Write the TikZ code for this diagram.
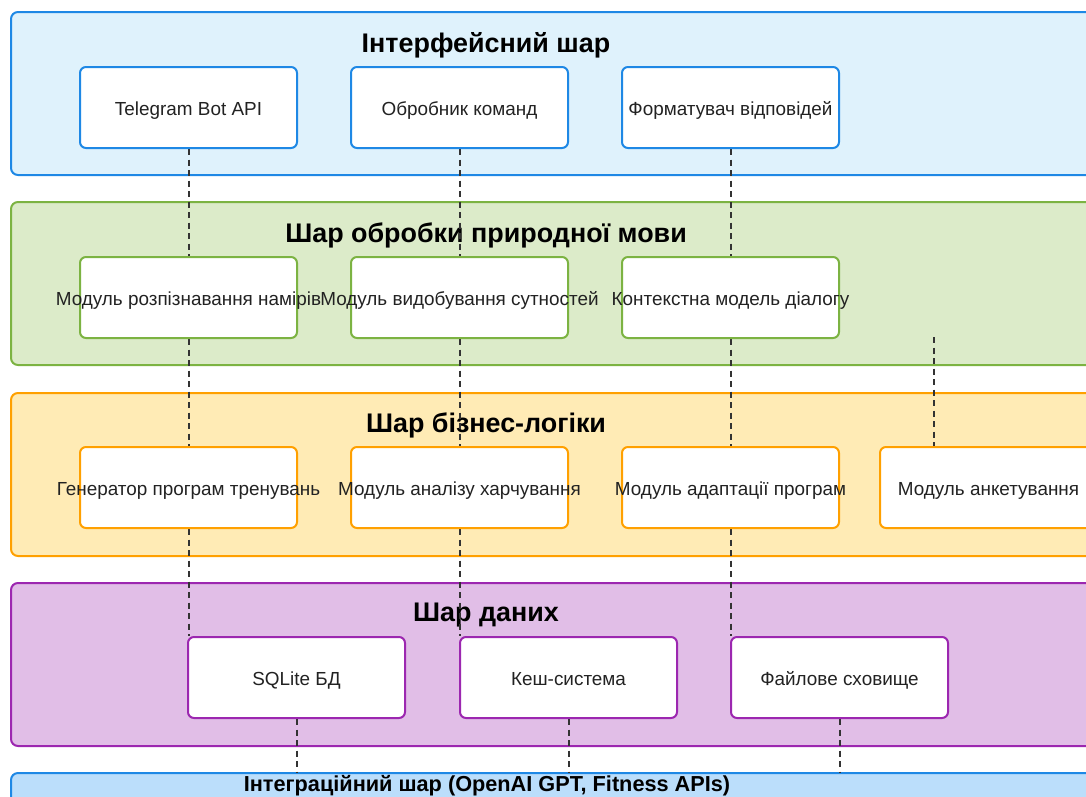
\documentclass[tikz,border=0pt]{standalone}
\usepackage{fontspec}
\setmainfont{Liberation Sans}
\definecolor{ifFill}{HTML}{DFF2FC}
\definecolor{ifLine}{HTML}{1E88E5}
\definecolor{nlFill}{HTML}{DCEBC9}
\definecolor{nlLine}{HTML}{7CB342}
\definecolor{blFill}{HTML}{FFEBB5}
\definecolor{blLine}{HTML}{FFA000}
\definecolor{dtFill}{HTML}{E1BEE7}
\definecolor{dtLine}{HTML}{9C27B0}
\definecolor{igFill}{HTML}{BBDEFB}
\definecolor{igLine}{HTML}{1E88E5}
\definecolor{linkCol}{HTML}{333333}
\definecolor{txtCol}{HTML}{222222}
\begin{document}
\begin{tikzpicture}[x=1pt,y=-1pt,
  layer/.style={rectangle, rounded corners=7pt, line width=2pt, anchor=north west,
    minimum width=1100pt, minimum height=163pt, inner sep=0pt},
  box/.style={rectangle, rounded corners=6pt, line width=2pt, fill=white, anchor=north west,
    minimum width=217pt, minimum height=81pt, inner sep=0pt},
  lbl/.style={font=\fontsize{18.9}{21}\selectfont, text=txtCol, inner sep=0pt, anchor=base},
  title/.style={font=\fontsize{26.9}{30}\selectfont\bfseries, text=black, inner sep=0pt, anchor=base},
  link/.style={draw=linkCol, line width=2pt, dash pattern=on 6pt off 4.5pt}]
\useasboundingbox (0,0) rectangle (1086,796);
\clip (0,0) rectangle (1086,796);

% layer backgrounds
\node[layer, fill=ifFill, draw=ifLine] (iface) at (10,11) {};
\node[layer, fill=nlFill, draw=nlLine] (nlp) at (10,201) {};
\node[layer, fill=blFill, draw=blLine] (biz) at (10,392) {};
\node[layer, fill=dtFill, draw=dtLine] (data) at (10,582) {};
\node[layer, fill=igFill, draw=igLine, minimum height=60pt] (integ) at (10,772) {};

% layer titles
\node[title] (iface-t) at (486,52) {Інтерфейсний шар};
\node[title] (nlp-t) at (486,242.5) {Шар обробки природної мови};
\node[title] (biz-t) at (486,432.5) {Шар бізнес-логіки};
\node[title] (data-t) at (486,621.5) {Шар даних};
\node[title, font=\fontsize{21.7}{24}\selectfont\bfseries] (integ-t) at (487,791) {Інтеграційний шар (OpenAI GPT, Fitness APIs)};

% component positions (top left corners)
\coordinate (tg-p) at (79,66);    \coordinate (cmd-p) at (350,66);   \coordinate (fmt-p) at (621,66);
\coordinate (int-p) at (79,256);  \coordinate (ent-p) at (350,256);  \coordinate (ctx-p) at (621,256);
\coordinate (gen-p) at (79,446);  \coordinate (nut-p) at (350,446);  \coordinate (adp-p) at (621,446);
\coordinate (quiz-p) at (879,446);
\coordinate (db-p) at (187,636);  \coordinate (cache-p) at (459,636); \coordinate (file-p) at (730,636);
\coordinate (quiz-src) at (934,337);

% component outlines used as anchors for the connectors
\path node[box, draw=none, fill=none] (tg) at (tg-p) {}
      node[box, draw=none, fill=none] (cmd) at (cmd-p) {}
      node[box, draw=none, fill=none] (fmt) at (fmt-p) {}
      node[box, draw=none, fill=none] (int) at (int-p) {}
      node[box, draw=none, fill=none] (ent) at (ent-p) {}
      node[box, draw=none, fill=none] (ctx) at (ctx-p) {}
      node[box, draw=none, fill=none] (gen) at (gen-p) {}
      node[box, draw=none, fill=none] (nut) at (nut-p) {}
      node[box, draw=none, fill=none] (adp) at (adp-p) {}
      node[box, draw=none, fill=none] (quiz) at (quiz-p) {}
      node[box, draw=none, fill=none] (db) at (db-p) {}
      node[box, draw=none, fill=none] (cache) at (cache-p) {}
      node[box, draw=none, fill=none] (file) at (file-p) {};

% dependencies between layers
\draw[link] (tg.south) -- (int.north);
\draw[link] (cmd.south) -- (ent.north);
\draw[link] (fmt.south) -- (ctx.north);
\draw[link] (int.south) -- (gen.north);
\draw[link] (ent.south) -- (nut.north);
\draw[link] (ctx.south) -- (adp.north);
\draw[link] (quiz-src) -- (quiz-src |- quiz.north);
\draw[link] (gen.south) -- (gen.south |- db.north);
\draw[link] (nut.south) -- (nut.south |- cache.north);
\draw[link] (adp.south) -- (adp.south |- file.north);
\draw[link] (db.south) -- (db.south |- integ.north);
\draw[link] (cache.south) -- (cache.south |- integ.north);
\draw[link] (file.south) -- (file.south |- integ.north);

% visible boxes
\node[box, draw=ifLine] (tg-b) at (tg-p) {};
\node[box, draw=ifLine] (cmd-b) at (cmd-p) {};
\node[box, draw=ifLine] (fmt-b) at (fmt-p) {};
\node[box, draw=nlLine] (int-b) at (int-p) {};
\node[box, draw=nlLine] (ent-b) at (ent-p) {};
\node[box, draw=nlLine] (ctx-b) at (ctx-p) {};
\node[box, draw=blLine] (gen-b) at (gen-p) {};
\node[box, draw=blLine] (nut-b) at (nut-p) {};
\node[box, draw=blLine] (adp-b) at (adp-p) {};
\node[box, draw=blLine] (quiz-b) at (quiz-p) {};
\node[box, draw=dtLine] (db-b) at (db-p) {};
\node[box, draw=dtLine] (cache-b) at (cache-p) {};
\node[box, draw=dtLine] (file-b) at (file-p) {};

% labels, baseline a little below the box centre
\node[lbl] (tg-t) at ([yshift=-7.5pt]tg-b.center) {Telegram Bot API};
\node[lbl] (cmd-t) at ([yshift=-7.5pt]cmd-b.center) {Обробник команд};
\node[lbl] (fmt-t) at ([yshift=-7.5pt]fmt-b.center) {Форматувач відповідей};
\node[lbl] (int-t) at ([yshift=-7.5pt]int-b.center) {Модуль розпізнавання намірів};
\node[lbl] (ent-t) at ([yshift=-7.5pt]ent-b.center) {Модуль видобування сутностей};
\node[lbl] (ctx-t) at ([yshift=-7.5pt]ctx-b.center) {Контекстна модель діалогу};
\node[lbl] (gen-t) at ([yshift=-7.5pt]gen-b.center) {Генератор програм тренувань};
\node[lbl] (nut-t) at ([yshift=-7.5pt]nut-b.center) {Модуль аналізу харчування};
\node[lbl] (adp-t) at ([yshift=-7.5pt]adp-b.center) {Модуль адаптації програм};
\node[lbl] (quiz-t) at ([yshift=-7.5pt]quiz-b.center) {Модуль анкетування};
\node[lbl] (db-t) at ([yshift=-7.5pt]db-b.center) {SQLite БД};
\node[lbl] (cache-t) at ([yshift=-7.5pt]cache-b.center) {Кеш-система};
\node[lbl] (file-t) at ([yshift=-7.5pt]file-b.center) {Файлове сховище};
\end{tikzpicture}
\end{document}
